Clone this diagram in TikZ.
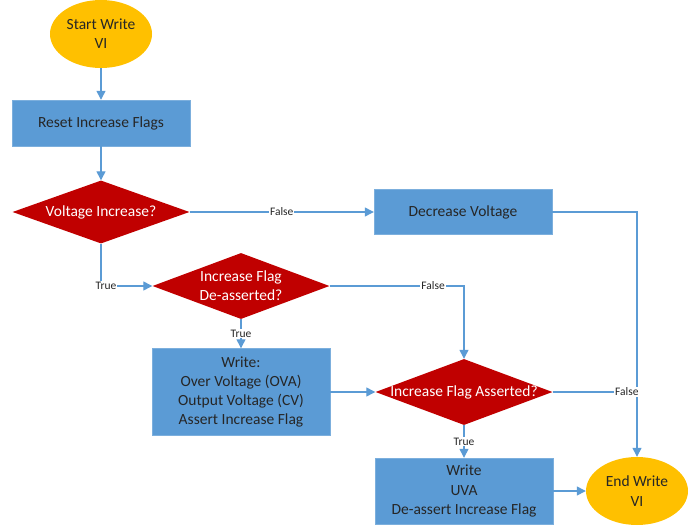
\documentclass[tikz,border=0pt]{standalone}
\usepackage{fontspec}
\setmainfont{Carlito}
\usepackage{tikz}
\usetikzlibrary{shapes.geometric,arrows.meta,calc}
\definecolor{flowblue}{HTML}{5B9BD5}
\definecolor{flowred}{HTML}{C00000}
\definecolor{flowgold}{HTML}{FFC000}
\definecolor{flowink}{HTML}{262626}
\tikzset{
	flow chart/.style={
		x=1pt, y=-1pt,
		big/.style={font=\fontsize{15.5}{19.3}\selectfont},
		small/.style={font=\fontsize{11.5}{13}\selectfont}
		},
	terminal/.style={ellipse, fill=flowgold, minimum width=102pt, minimum height=68pt, inner sep=0pt},
	process/.style={rectangle, fill=flowblue, draw=flowblue!80!white, thin,
		minimum width=178pt, text=flowink, align=center, big},
	decision/.style={diamond, fill=flowred, minimum width=177pt, minimum height=64pt, inner sep=0pt},
	tlabel/.style={text=flowink, align=center, big},
	dlabel/.style={text=white, align=center, big},
	wire/.style={draw=flowblue, line width=1.3pt},
	ar/.style={wire, -{Triangle[length=9pt,width=9pt]}},
	br/.style={fill=white, inner sep=1pt, text=flowink, small}
}

\begin{document}
\begin{tikzpicture}[flow chart]
   \useasboundingbox (0,0) rectangle (694,527);
   % shapes
   \node[terminal, label={[tlabel]center:Start Write\\VI}] (start) at (101,34) {};
   \node[process, minimum height=46pt] (reset) at (101,123) {Reset Increase Flags};
   \node[decision, minimum height=63pt, label={[dlabel]center:Voltage Increase?}] (vinc) at (101,212) {};
   \node[process, minimum height=45pt] (decv) at (463,212) {Decrease Voltage};
   \node[decision, minimum height=66pt, label={[dlabel]center:Increase Flag\\De-asserted?}] (dflag) at (241,286) {};
   \node[process, minimum height=87pt] (wova) at (241,392)
      {Write:\\Over Voltage (OVA)\\Output Voltage (CV)\\Assert Increase Flag};
   \node[decision, minimum height=66pt, label={[dlabel]center:Increase Flag Asserted?}] (asrt) at (464,392) {};
   \node[process, minimum height=66pt] (wuva) at (464,491) {Write\\UVA\\De-assert Increase Flag};
   \node[terminal, label={[tlabel]center:End Write\\VI}] (stop) at (637,491) {};
   \coordinate (meet) at (stop.north |- asrt.east);
   % connectors
   \draw[ar] (start) -- (reset);
   \draw[ar] (reset) -- (vinc);
   \draw[ar] (vinc.east) -- node[br]{False} (decv.west);
   \draw[ar] (vinc.south) |- node[br, xshift=5pt]{True} (dflag.west);
   \draw[ar] (decv.east) -| (stop.north);
   \draw[ar] (dflag.east) -| node[br, pos=.385]{False} (asrt.north);
   \draw[ar] (dflag.south) -- node[br]{True} (wova.north);
   \draw[ar] (wova.east) -- (asrt.west);
   \draw[wire] (asrt.east) -- node[br, pos=.88]{False} (meet);
   \draw[ar] (asrt.south) -- node[br]{True} (wuva.north);
   \draw[ar] (wuva.east) -- (stop.west);
\end{tikzpicture}
\end{document}
